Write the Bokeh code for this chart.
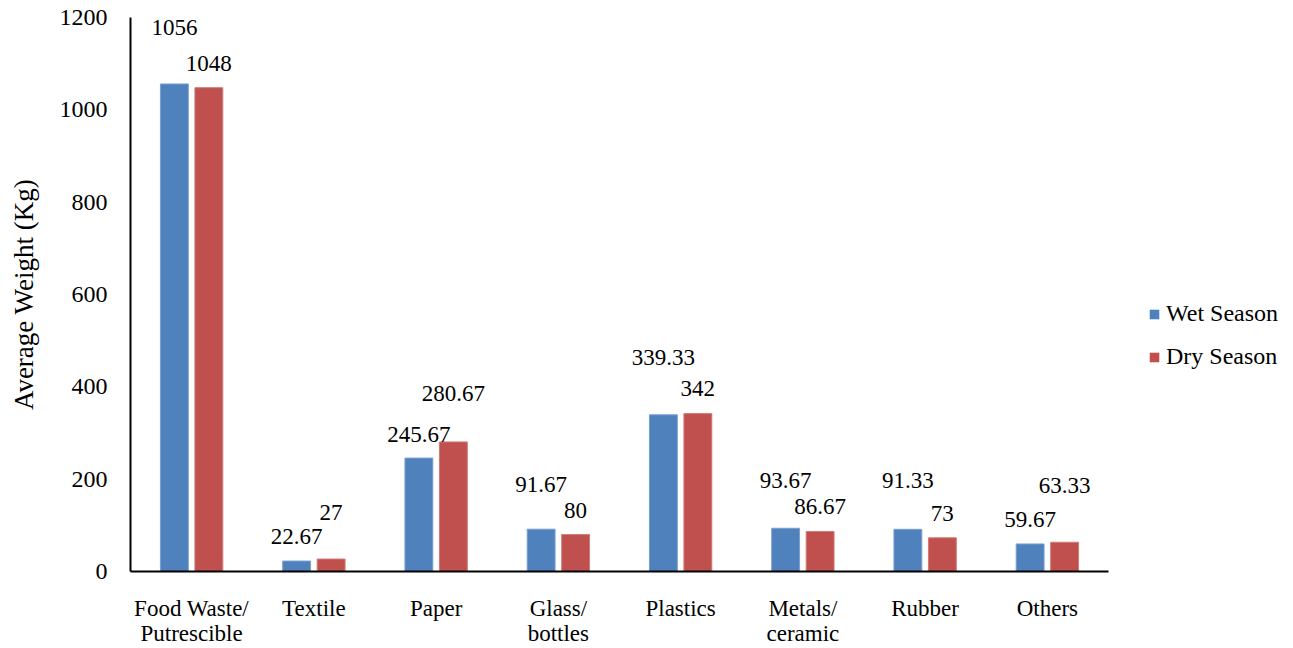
from bokeh.plotting import figure
from bokeh.layouts import row
from bokeh.models import (ColumnDataSource, FactorRange, Range1d, FixedTicker,
                          Legend, LegendItem)
from bokeh.transform import dodge
from bokeh.core.properties import value
from bokeh.embed import file_html
from bokeh.resources import INLINE

# ---- data ----
categories = ["Food Waste/\nPutrescible", "Textile", "Paper", "Glass/\nbottles",
              "Plastics", "Metals/\nceramic", "Rubber", "Others"]
wet_season = [1056, 22.67, 245.67, 91.67, 339.33, 93.67, 91.33, 59.67]
dry_season = [1048, 27, 280.67, 80, 342, 86.67, 73, 63.33]
series_names = ["Wet Season", "Dry Season"]
y_ticks = [0, 200, 400, 600, 800, 1000, 1200]

# label vertical offsets in screen pixels (negative = up), as placed in the reference
wet_label_dy = [-56, -25, -24, -45, -57, -48, -49, -24]
dry_label_dy = [-24, -47, -48, -24, -25, -25, -24, -57]

BLUE = "#4F81BD"
RED = "#C0504D"
FONT = "Liberation Serif"

src = ColumnDataSource(dict(
    cat=categories,
    wet=wet_season,
    dry=dry_season,
    wet_txt=["{:g}".format(v) for v in wet_season],
    dry_txt=["{:g}".format(v) for v in dry_season],
    wet_dy=wet_label_dy,
    dry_dy=dry_label_dy,
))

p = figure(width=1118, height=648, output_backend="svg", toolbar_location=None,
           x_range=FactorRange(*categories, range_padding=0),
           y_range=Range1d(0, 1200),
           min_border_left=130, min_border_right=10,
           min_border_top=17, min_border_bottom=77)
p.outline_line_color = None
p.xgrid.grid_line_color = None
p.ygrid.grid_line_color = None
p.background_fill_color = "white"
p.border_fill_color = "white"

off = 0.141
w = 0.228
p.vbar(x=dodge("cat", -off, range=p.x_range), top="wet", width=w,
       source=src, fill_color=BLUE, line_color="#7A9FD0", line_width=1)
p.vbar(x=dodge("cat", off, range=p.x_range), top="dry", width=w,
       source=src, fill_color=RED, line_color="#D07A78", line_width=1)

p.text(x=dodge("cat", -off, range=p.x_range), y="wet", text="wet_txt",
       y_offset="wet_dy", source=src, text_align="center", text_baseline="middle",
       text_font=value(FONT), text_font_size="23px", text_color="black")
p.text(x=dodge("cat", off, range=p.x_range), y="dry", text="dry_txt",
       y_offset="dry_dy", source=src, text_align="center", text_baseline="middle",
       text_font=value(FONT), text_font_size="23px", text_color="black")

# axes
p.xaxis.axis_line_color = "black"
p.xaxis.axis_line_width = 2
p.xaxis.major_tick_line_color = None
p.xaxis.minor_tick_line_color = None
p.xaxis.major_label_text_font = FONT
p.xaxis.major_label_text_font_size = "23px"
p.xaxis.major_label_text_color = "black"
p.xaxis.major_label_text_line_height = 1.0
p.xaxis.major_label_standoff = 18

p.yaxis.ticker = FixedTicker(ticks=y_ticks)
p.yaxis.axis_line_color = "black"
p.yaxis.axis_line_width = 2
p.yaxis.major_tick_line_color = None
p.yaxis.minor_tick_line_color = None
p.yaxis.major_label_text_font = FONT
p.yaxis.major_label_text_font_size = "24px"
p.yaxis.major_label_text_color = "black"
p.yaxis.major_label_standoff = 17
p.yaxis.axis_label = "Average Weight (Kg)"
p.yaxis.axis_label_text_font = FONT
p.yaxis.axis_label_text_font_size = "27px"
p.yaxis.axis_label_text_font_style = "normal"
p.yaxis.axis_label_text_color = "black"
p.yaxis.axis_label_standoff = 18

# ---- legend panel (separate figure to the right) ----
lg = figure(width=175, height=648, output_backend="svg", toolbar_location=None,
            x_axis_location=None, y_axis_location=None,
            x_range=Range1d(0, 1), y_range=Range1d(0, 1),
            min_border_left=0, min_border_right=0,
            min_border_top=0, min_border_bottom=0)
lg.outline_line_color = None
lg.xgrid.grid_line_color = None
lg.ygrid.grid_line_color = None
# hidden copies of the series: only their legend swatches are shown
lw = lg.vbar(x=list(range(len(categories))), top=wet_season, width=0.1,
             fill_color=BLUE, line_color=None, visible=False)
ld = lg.vbar(x=list(range(len(categories))), top=dry_season, width=0.1,
             fill_color=RED, line_color=None, visible=False)

legend = Legend(items=[LegendItem(label=series_names[0], renderers=[lw]),
                       LegendItem(label=series_names[1], renderers=[ld])],
                location=(30, 201), orientation="vertical",
                label_text_font=FONT, label_text_font_size="24px",
                label_text_color="black",
                glyph_width=12, glyph_height=12, label_standoff=6,
                label_height=22, spacing=16, padding=0, margin=0,
                inactive_fill_alpha=0,
                border_line_color=None, background_fill_alpha=0)
lg.add_layout(legend, "center")

layout = row(p, lg, spacing=0)
open("out.html", "w").write(file_html(layout, INLINE))
